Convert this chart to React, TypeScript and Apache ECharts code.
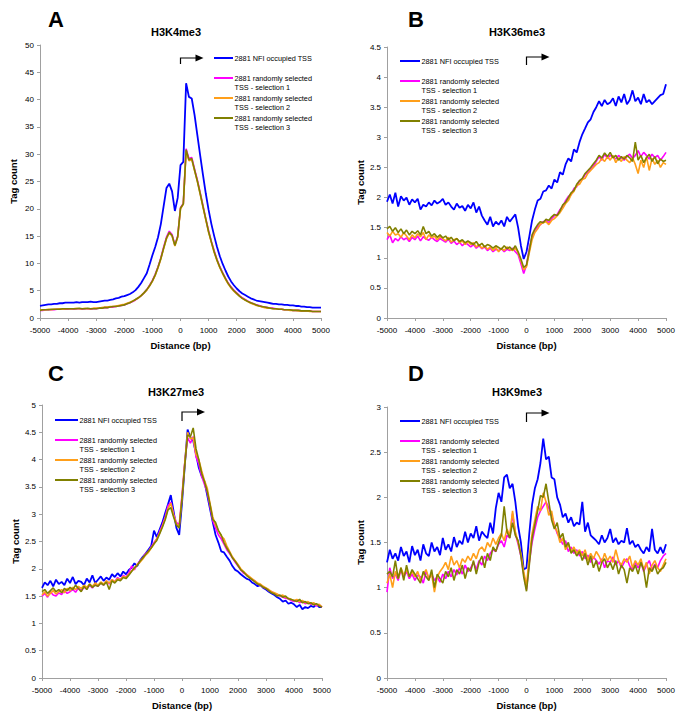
import React, { useEffect, useRef } from "react";
import * as echarts from "echarts";

// ---------- DATA ----------
const distance = [
  -5000, -4900, -4800, -4700, -4600, -4500, -4400, -4300, -4200, -4100,
  -4000, -3900, -3800, -3700, -3600, -3500, -3400, -3300, -3200, -3100,
  -3000, -2900, -2800, -2700, -2600, -2500, -2400, -2300, -2200, -2100,
  -2000, -1900, -1800, -1700, -1600, -1500, -1400, -1300, -1200, -1100,
  -1000, -900, -800, -700, -600, -500, -400, -300, -200, -100,
  0, 100, 200, 300, 400, 500, 600, 700, 800, 900,
  1000, 1100, 1200, 1300, 1400, 1500, 1600, 1700, 1800, 1900,
  2000, 2100, 2200, 2300, 2400, 2500, 2600, 2700, 2800, 2900,
  3000, 3100, 3200, 3300, 3400, 3500, 3600, 3700, 3800, 3900,
  4000, 4100, 4200, 4300, 4400, 4500, 4600, 4700, 4800, 4900, 5000,
];

const seriesNames = [
  "2881 NFI occupied TSS",
  "2881 randomly selected TSS - selection 1",
  "2881 randomly selected TSS - selection 2",
  "2881 randomly selected TSS - selection 3",
];
const legendLines = [
  ["2881 NFI occupied TSS"],
  ["2881 randomly selected", "TSS - selection 1"],
  ["2881 randomly selected", "TSS - selection 2"],
  ["2881 randomly selected", "TSS - selection 3"],
];
const panelLetters = ["A", "B", "C", "D"];
const panelTitles = ["H3K4me3", "H3K36me3", "H3K27me3", "H3K9me3"];
const yMax = [50, 4.5, 5, 3];
const yStep = [5, 0.5, 0.5, 0.5];

// Panel A: H3K4me3
const aNfi = [
  2.2, 2.3, 2.4, 2.5, 2.5, 2.6, 2.6, 2.7, 2.7, 2.8,
  2.8, 2.8, 2.8, 2.9, 2.8, 2.9, 2.9, 2.9, 3.0, 2.9,
  2.9, 3.0, 3.1, 3.2, 3.2, 3.3, 3.4, 3.6, 3.7, 3.9,
  4.0, 4.2, 4.4, 4.7, 5.1, 5.7, 6.4, 7.3, 8.2, 9.8,
  11.5, 13.0, 14.8, 17.2, 20.5, 23.8, 24.6, 23.2, 19.6, 22.0,
  28.0, 28.6, 43.0, 40.5, 40.2, 37.2, 33.5, 29.8, 26.2, 22.8,
  19.8, 17.2, 15.0, 13.0, 11.3, 9.9, 8.7, 7.6, 6.7, 6.0,
  5.4, 4.9, 4.5, 4.2, 3.9, 3.6, 3.4, 3.2, 3.1, 3.0,
  2.9, 2.8, 2.7, 2.6, 2.6, 2.5, 2.5, 2.4, 2.4, 2.3,
  2.3, 2.2, 2.2, 2.1, 2.1, 2.0, 2.0, 1.9, 1.9, 1.9, 1.9,
];
const aSel1 = [
  1.4, 1.4, 1.5, 1.5, 1.5, 1.5, 1.6, 1.6, 1.6, 1.6,
  1.6, 1.7, 1.6, 1.7, 1.7, 1.6, 1.7, 1.7, 1.6, 1.7,
  1.7, 1.8, 1.8, 1.9, 1.9, 2.0, 2.0, 2.1, 2.2, 2.3,
  2.4, 2.6, 2.8, 3.0, 3.3, 3.7, 4.1, 4.6, 5.2, 6.0,
  6.9, 8.0, 9.4, 11.0, 13.0, 14.8, 15.9, 15.3, 13.4, 15.0,
  20.2, 21.0, 31.0, 29.2, 29.4, 27.3, 25.3, 23.0, 20.6, 18.2,
  16.0, 14.0, 12.3, 10.7, 9.4, 8.3, 7.3, 6.4, 5.7, 5.1,
  4.6, 4.1, 3.7, 3.4, 3.1, 2.8, 2.6, 2.4, 2.3, 2.1,
  2.0, 1.9, 1.8, 1.8, 1.7, 1.6, 1.6, 1.5, 1.5, 1.5,
  1.4, 1.4, 1.4, 1.3, 1.3, 1.3, 1.3, 1.2, 1.2, 1.2, 1.2,
];
const aSel2 = [
  1.5, 1.5, 1.5, 1.6, 1.5, 1.6, 1.6, 1.7, 1.6, 1.7,
  1.7, 1.7, 1.7, 1.8, 1.7, 1.7, 1.8, 1.7, 1.7, 1.8,
  1.8, 1.8, 1.9, 2.0, 2.0, 2.1, 2.1, 2.2, 2.3, 2.4,
  2.5, 2.7, 2.9, 3.1, 3.4, 3.7, 4.1, 4.6, 5.1, 5.9,
  6.7, 7.8, 9.2, 10.8, 12.7, 14.5, 15.6, 15.0, 13.2, 14.8,
  20.0, 20.8, 30.6, 28.8, 29.0, 27.0, 25.0, 22.7, 20.3, 18.0,
  15.7, 13.8, 12.0, 10.5, 9.2, 8.1, 7.1, 6.2, 5.5, 4.9,
  4.4, 4.0, 3.6, 3.3, 3.0, 2.7, 2.5, 2.3, 2.2, 2.0,
  1.9, 1.8, 1.8, 1.7, 1.7, 1.6, 1.6, 1.5, 1.5, 1.4,
  1.4, 1.4, 1.3, 1.3, 1.3, 1.3, 1.2, 1.2, 1.2, 1.2, 1.2,
];
const aSel3 = [
  1.4, 1.5, 1.5, 1.5, 1.6, 1.6, 1.6, 1.6, 1.7, 1.7,
  1.7, 1.7, 1.7, 1.7, 1.8, 1.7, 1.7, 1.8, 1.7, 1.7,
  1.7, 1.8, 1.8, 1.9, 1.9, 2.0, 2.1, 2.1, 2.2, 2.3,
  2.4, 2.6, 2.8, 3.1, 3.4, 3.7, 4.1, 4.6, 5.2, 5.9,
  6.8, 7.9, 9.3, 10.9, 12.8, 14.6, 15.7, 15.1, 13.3, 14.9,
  20.1, 20.9, 30.8, 29.0, 29.2, 27.1, 25.1, 22.8, 20.4, 18.1,
  15.8, 13.9, 12.1, 10.6, 9.3, 8.2, 7.2, 6.3, 5.6, 5.0,
  4.5, 4.0, 3.6, 3.3, 3.0, 2.8, 2.6, 2.4, 2.2, 2.1,
  2.0, 1.9, 1.8, 1.7, 1.7, 1.6, 1.6, 1.5, 1.5, 1.5,
  1.4, 1.4, 1.4, 1.3, 1.3, 1.3, 1.3, 1.2, 1.2, 1.2, 1.2,
];

// Panel B: H3K36me3
const bNfi = [
  1.93, 2.05, 1.90, 2.08, 1.85, 2.02, 1.95, 2.00, 1.88, 1.97,
  1.92, 1.98, 1.80, 1.88, 1.85, 1.92, 1.87, 1.95, 1.90, 1.93,
  1.98, 1.88, 1.92, 1.85, 1.80, 1.90, 1.83, 1.86, 1.78, 1.88,
  1.82, 1.92, 1.75, 1.85, 1.70, 1.62, 1.55, 1.68, 1.52, 1.60,
  1.55, 1.62, 1.52, 1.68, 1.60, 1.66, 1.72, 1.50, 1.20, 0.98,
  1.10, 1.35, 1.62, 1.80, 1.95, 1.98, 2.10, 2.12, 2.20, 2.15,
  2.30, 2.25, 2.42, 2.38, 2.55, 2.65, 2.60, 2.80, 2.75, 2.92,
  3.05, 3.15, 3.25, 3.30, 3.42, 3.50, 3.60, 3.52, 3.62, 3.55,
  3.58, 3.65, 3.52, 3.68, 3.58, 3.72, 3.55, 3.62, 3.78, 3.60,
  3.66, 3.55, 3.72, 3.58, 3.62, 3.55, 3.60, 3.65, 3.70, 3.72, 3.88,
];
const bSel1 = [
  1.30, 1.38, 1.25, 1.32, 1.28, 1.35, 1.30, 1.33, 1.27, 1.34,
  1.30, 1.36, 1.28, 1.35, 1.31, 1.29, 1.34, 1.30, 1.27, 1.32,
  1.29, 1.26, 1.31, 1.24, 1.28, 1.22, 1.26, 1.20, 1.25, 1.22,
  1.18, 1.22, 1.16, 1.20, 1.15, 1.18, 1.12, 1.16, 1.10, 1.14,
  1.12, 1.15, 1.10, 1.14, 1.12, 1.16, 1.10, 1.05, 0.90, 0.74,
  0.88, 1.15, 1.35, 1.45, 1.52, 1.55, 1.60, 1.62, 1.58, 1.65,
  1.70, 1.72, 1.80, 1.85, 1.95, 2.02, 2.05, 2.15, 2.18, 2.28,
  2.30, 2.38, 2.42, 2.48, 2.52, 2.60, 2.68, 2.62, 2.72, 2.65,
  2.70, 2.68, 2.64, 2.70, 2.66, 2.62, 2.68, 2.72, 2.65, 2.70,
  2.78, 2.68, 2.75, 2.70, 2.64, 2.72, 2.66, 2.70, 2.62, 2.68, 2.75,
];
const bSel2 = [
  1.42, 1.36, 1.44, 1.38, 1.40, 1.34, 1.42, 1.36, 1.30, 1.38,
  1.33, 1.40, 1.35, 1.42, 1.30, 1.38, 1.33, 1.36, 1.30, 1.35,
  1.32, 1.28, 1.34, 1.26, 1.30, 1.32, 1.25, 1.28, 1.22, 1.27,
  1.22, 1.25, 1.18, 1.22, 1.16, 1.20, 1.14, 1.18, 1.12, 1.17,
  1.10, 1.16, 1.12, 1.18, 1.14, 1.12, 1.16, 1.08, 0.95, 0.80,
  0.85, 1.08, 1.30, 1.42, 1.48, 1.56, 1.58, 1.60, 1.55, 1.62,
  1.65, 1.70, 1.75, 1.82, 1.90, 1.95, 2.05, 2.10, 2.20, 2.22,
  2.30, 2.32, 2.40, 2.45, 2.50, 2.55, 2.58, 2.65, 2.60, 2.68,
  2.62, 2.70, 2.58, 2.66, 2.60, 2.68, 2.62, 2.58, 2.66, 2.55,
  2.40, 2.62, 2.50, 2.68, 2.45, 2.65, 2.55, 2.62, 2.50, 2.58, 2.55,
];
const bSel3 = [
  1.48, 1.52, 1.44, 1.50, 1.42, 1.48, 1.40, 1.46, 1.38, 1.44,
  1.40, 1.45, 1.38, 1.52, 1.40, 1.44, 1.36, 1.40, 1.34, 1.38,
  1.33, 1.36, 1.30, 1.34, 1.28, 1.32, 1.27, 1.30, 1.25, 1.28,
  1.25, 1.22, 1.27, 1.20, 1.24, 1.18, 1.22, 1.20, 1.16, 1.20,
  1.17, 1.14, 1.20, 1.15, 1.18, 1.13, 1.20, 1.10, 0.98, 0.84,
  0.88, 1.12, 1.38, 1.48, 1.55, 1.60, 1.58, 1.64, 1.62, 1.68,
  1.72, 1.70, 1.78, 1.88, 1.92, 2.00, 2.08, 2.12, 2.22, 2.28,
  2.32, 2.40, 2.45, 2.50, 2.56, 2.62, 2.70, 2.66, 2.74, 2.68,
  2.75, 2.66, 2.70, 2.62, 2.68, 2.64, 2.70, 2.66, 2.60, 2.92,
  2.62, 2.70, 2.58, 2.66, 2.72, 2.60, 2.68, 2.56, 2.64, 2.60, 2.62,
];

// Panel C: H3K27me3
const cNfi = [
  1.65, 1.75, 1.70, 1.78, 1.68, 1.80, 1.72, 1.76, 1.70, 1.82,
  1.74, 1.85, 1.72, 1.78, 1.76, 1.70, 1.82, 1.75, 1.88, 1.74,
  1.80, 1.86, 1.78, 1.84, 1.80, 1.90, 1.85, 1.92, 1.86, 1.95,
  1.90, 1.98, 2.02, 2.10, 2.05, 2.15, 2.22, 2.28, 2.35, 2.42,
  2.70, 2.58, 2.72, 2.85, 3.02, 3.18, 3.35, 3.05, 2.75, 2.62,
  3.20, 3.90, 4.55, 4.40, 4.35, 4.10, 3.85, 3.70, 3.60, 3.35,
  3.10, 2.85, 2.62, 2.48, 2.32, 2.30, 2.22, 2.15, 2.05, 1.98,
  1.95, 1.90, 1.86, 1.82, 1.80, 1.75, 1.72, 1.68, 1.70, 1.65,
  1.62, 1.58, 1.55, 1.52, 1.48, 1.45, 1.40, 1.42, 1.36, 1.38,
  1.35, 1.30, 1.34, 1.26, 1.30, 1.28, 1.32, 1.30, 1.35, 1.30, 1.30,
];
const cSel1 = [
  1.50, 1.55, 1.48, 1.58, 1.52, 1.50, 1.56, 1.53, 1.60, 1.55,
  1.58, 1.62, 1.57, 1.65, 1.60, 1.66, 1.63, 1.70, 1.65, 1.72,
  1.68, 1.75, 1.70, 1.78, 1.72, 1.80, 1.76, 1.84, 1.80, 1.88,
  1.85, 1.92, 2.05, 1.98, 2.08, 2.15, 2.20, 2.28, 2.32, 2.40,
  2.48, 2.55, 2.68, 2.80, 2.95, 3.15, 3.22, 3.00, 2.85, 2.80,
  3.35, 3.95, 4.40, 4.30, 4.42, 4.05, 3.92, 3.70, 3.55, 3.40,
  3.15, 2.88, 2.75, 2.62, 2.55, 2.45, 2.35, 2.28, 2.20, 2.12,
  2.05, 1.98, 1.92, 1.90, 1.85, 1.80, 1.78, 1.72, 1.70, 1.66,
  1.64, 1.60, 1.58, 1.55, 1.52, 1.50, 1.48, 1.46, 1.45, 1.42,
  1.40, 1.42, 1.38, 1.40, 1.36, 1.38, 1.35, 1.36, 1.32, 1.34, 1.30,
];
const cSel2 = [
  1.52, 1.58, 1.50, 1.55, 1.60, 1.54, 1.58, 1.62, 1.56, 1.64,
  1.60, 1.66, 1.62, 1.68, 1.64, 1.70, 1.66, 1.72, 1.68, 1.74,
  1.70, 1.76, 1.72, 1.78, 1.74, 1.80, 1.76, 1.82, 1.80, 1.86,
  1.84, 1.90, 1.96, 2.00, 2.08, 2.12, 2.18, 2.25, 2.30, 2.38,
  2.45, 2.55, 2.65, 2.78, 2.92, 3.10, 3.20, 2.98, 2.82, 2.78,
  3.30, 3.95, 4.50, 4.38, 4.40, 4.10, 4.00, 3.80, 3.62, 3.48,
  3.20, 2.95, 2.80, 2.70, 2.60, 2.55, 2.42, 2.32, 2.22, 2.15,
  2.08, 2.00, 1.95, 1.90, 1.86, 1.82, 1.78, 1.74, 1.72, 1.68,
  1.65, 1.62, 1.58, 1.56, 1.54, 1.50, 1.52, 1.48, 1.46, 1.44,
  1.42, 1.44, 1.40, 1.42, 1.38, 1.40, 1.36, 1.38, 1.34, 1.35, 1.30,
];
const cSel3 = [
  1.58, 1.62, 1.55, 1.60, 1.65, 1.58, 1.62, 1.56, 1.64, 1.60,
  1.66, 1.62, 1.70, 1.64, 1.58, 1.68, 1.62, 1.72, 1.66, 1.70,
  1.68, 1.74, 1.70, 1.76, 1.62, 1.78, 1.74, 1.80, 1.78, 1.84,
  1.82, 1.88, 1.95, 2.02, 2.06, 2.14, 2.20, 2.26, 2.32, 2.38,
  2.46, 2.52, 2.64, 2.76, 2.90, 3.08, 3.12, 2.95, 2.80, 2.75,
  3.28, 3.90, 4.45, 4.42, 4.58, 4.20, 4.00, 3.75, 3.60, 3.42,
  3.18, 2.90, 2.85, 2.70, 2.62, 2.48, 2.38, 2.30, 2.20, 2.14,
  2.06, 1.98, 1.94, 1.88, 1.84, 1.80, 1.76, 1.72, 1.70, 1.66,
  1.64, 1.60, 1.56, 1.54, 1.50, 1.52, 1.48, 1.50, 1.45, 1.44,
  1.42, 1.40, 1.44, 1.38, 1.40, 1.36, 1.38, 1.34, 1.36, 1.32, 1.30,
];

// Panel D: H3K9me3
const dNfi = [
  1.28, 1.42, 1.32, 1.38, 1.30, 1.45, 1.35, 1.40, 1.28, 1.46,
  1.36, 1.42, 1.30, 1.48, 1.38, 1.35, 1.50, 1.40, 1.45, 1.36,
  1.55, 1.42, 1.48, 1.40, 1.56, 1.45, 1.52, 1.48, 1.62, 1.50,
  1.60, 1.55, 1.68, 1.52, 1.62, 1.58, 1.55, 1.72, 1.60, 1.88,
  2.05, 1.95, 2.22, 2.25, 2.10, 2.15, 1.95, 1.68, 1.50, 1.20,
  1.22, 1.60, 1.92, 2.10, 2.20, 2.38, 2.65, 2.42, 2.45, 2.22,
  2.20, 2.00, 1.92, 1.78, 1.82, 1.72, 1.78, 1.68, 1.72, 1.70,
  1.95, 1.62, 1.72, 1.58, 1.55, 1.52, 1.48, 1.58, 1.50, 1.55,
  1.65, 1.50, 1.55, 1.48, 1.52, 1.50, 1.66, 1.48, 1.52, 1.45,
  1.48, 1.42, 1.38, 1.45, 1.40, 1.65, 1.42, 1.38, 1.45, 1.38, 1.48,
];
const dSel1 = [
  0.95, 1.22, 1.10, 1.15, 1.08, 1.20, 1.12, 1.18, 1.10, 1.15,
  1.08, 1.14, 1.12, 1.05, 1.18, 1.10, 1.15, 1.08, 1.12, 1.06,
  1.15, 1.10, 1.18, 1.12, 1.20, 1.14, 1.22, 1.15, 1.25, 1.18,
  1.22, 1.28, 1.20, 1.30, 1.25, 1.35, 1.30, 1.38, 1.42, 1.40,
  1.48, 1.52, 1.45, 1.58, 1.55, 1.82, 1.60, 1.48, 1.35, 1.15,
  0.98, 1.28, 1.50, 1.65, 1.78, 1.85, 1.90, 1.95, 1.88, 1.80,
  1.70, 1.60, 1.55, 1.48, 1.52, 1.40, 1.45, 1.38, 1.42, 1.35,
  1.40, 1.32, 1.36, 1.28, 1.34, 1.30, 1.26, 1.32, 1.22, 1.30,
  1.28, 1.34, 1.25, 1.30, 1.22, 1.28, 1.32, 1.24, 1.20, 1.28,
  1.22, 1.28, 1.18, 1.25, 1.30, 1.20, 1.26, 1.22, 1.30, 1.35, 1.38,
];
const dSel2 = [
  1.05, 1.15, 1.00, 1.18, 1.10, 1.22, 1.14, 1.20, 1.12, 1.18,
  1.12, 1.18, 1.08, 1.15, 1.20, 1.10, 1.15, 0.95, 1.12, 1.18,
  1.22, 1.28, 1.20, 1.35, 1.25, 1.30, 1.22, 1.32, 1.28, 1.35,
  1.30, 1.38, 1.32, 1.42, 1.45, 1.40, 1.50, 1.45, 1.55, 1.48,
  1.55, 1.60, 1.52, 1.65, 1.58, 1.85, 1.62, 1.50, 1.38, 1.18,
  1.02, 1.35, 1.60, 1.75, 1.90, 1.85, 2.05, 1.95, 1.80, 1.85,
  1.68, 1.62, 1.50, 1.55, 1.42, 1.48, 1.40, 1.45, 1.38, 1.42,
  1.35, 1.42, 1.30, 1.38, 1.32, 1.40, 1.35, 1.28, 1.38, 1.30,
  1.35, 1.28, 1.42, 1.30, 1.25, 1.32, 1.28, 1.35, 1.22, 1.30,
  1.25, 1.32, 1.20, 1.28, 1.15, 1.25, 1.30, 1.22, 1.18, 1.25, 1.32,
];
const dSel3 = [
  1.15, 1.18, 1.12, 1.30, 1.10, 1.22, 1.08, 1.25, 1.12, 1.20,
  1.15, 1.10, 1.05, 1.18, 1.12, 1.08, 1.20, 1.00, 1.15, 1.10,
  1.05, 1.18, 1.12, 1.22, 1.08, 1.20, 1.15, 1.25, 1.10, 1.22,
  1.18, 1.30, 1.15, 1.28, 1.35, 1.22, 1.38, 1.30, 1.45, 1.40,
  1.50, 1.58, 1.90, 1.62, 1.55, 1.72, 1.58, 1.52, 1.35, 1.12,
  0.96, 1.25, 1.55, 1.70, 1.85, 2.02, 2.00, 2.15, 1.95, 1.75,
  1.65, 1.72, 1.55, 1.60, 1.45, 1.50, 1.38, 1.42, 1.35, 1.40,
  1.30, 1.38, 1.25, 1.35, 1.22, 1.30, 1.18, 1.28, 1.32, 1.22,
  1.28, 1.20, 1.30, 1.15, 1.25, 1.20, 1.05, 1.22, 1.18, 1.25,
  1.15, 1.28, 1.20, 1.00, 1.22, 1.18, 1.25, 1.15, 1.20, 1.22, 1.28,
];

const panelData = [
  [aNfi, aSel1, aSel2, aSel3],
  [bNfi, bSel1, bSel2, bSel3],
  [cNfi, cSel1, cSel2, cSel3],
  [dNfi, dSel1, dSel2, dSel3],
];

// ---------- STYLE / LAYOUT ----------
const colors = ["#0000ff", "#ff00ff", "#ff9f1a", "#808000"];
const lineWidths = [1.8, 1.6, 1.6, 1.6];
const FONT = "Arial, 'Liberation Sans', Helvetica, sans-serif";

const grids = [
  { left: 40, top: 45, width: 281, height: 273 },
  { left: 387, top: 47, width: 279, height: 271 },
  { left: 42, top: 405, width: 280, height: 273 },
  { left: 387, top: 407, width: 279, height: 271 },
];
const letterPos = [
  { x: 48, y: 19 },
  { x: 408, y: 19 },
  { x: 48, y: 373 },
  { x: 408, y: 373 },
];
const titlePos = [
  { x: 176, y: 32 },
  { x: 517, y: 32 },
  { x: 176, y: 392 },
  { x: 517, y: 392 },
];
const legendPos = [
  { x: 214, y: 58, w: 19 },
  { x: 400, y: 61, w: 20 },
  { x: 55, y: 420, w: 23 },
  { x: 400, y: 421, w: 20 },
];
const legendRowOffsets = [0, 20, 40, 60];
const arrowOffsets = [
  { top: 13, bottom: 19 },
  { top: 10, bottom: 18 },
  { top: 7, bottom: 16 },
  { top: 6, bottom: 15 },
];

export default function App() {
  const ref = useRef<HTMLDivElement>(null);

  useEffect(() => {
    document.body.style.margin = "0";
    if (!ref.current) return;
    const chart = echarts.init(ref.current, undefined, { renderer: "svg" });

    const series: any[] = [];
    panelData.forEach((sets, p) => {
      sets.forEach((vals, s) => {
        series.push({
          name: seriesNames[s],
          type: "line",
          xAxisIndex: p,
          yAxisIndex: p,
          data: distance.map((x, k) => [x, vals[k]]),
          showSymbol: false,
          symbol: "none",
          smooth: false,
          lineStyle: { color: colors[s], width: lineWidths[s] },
          itemStyle: { color: colors[s] },
          z: 2 + s,
        });
      });
    });

    const axisLineStyle = { color: "#a0a0a0", width: 1 };

    chart.setOption({
      animation: false,
      backgroundColor: "#ffffff",
      grid: grids.map((g) => ({ ...g, containLabel: false, outerBoundsMode: "none" })),
      xAxis: grids.map((_, p) => ({
        type: "value",
        gridIndex: p,
        min: -5000,
        max: 5000,
        interval: 1000,
        name: "Distance (bp)",
        nameLocation: "middle",
        nameGap: 22,
        nameTextStyle: { fontFamily: FONT, fontWeight: "bold", fontSize: 9.5, color: "#000" },
        axisLine: { show: true, onZero: false, lineStyle: axisLineStyle },
        axisTick: { show: true, length: 3, lineStyle: axisLineStyle },
        axisLabel: {
          fontFamily: FONT,
          fontSize: 8,
          color: "#000",
          margin: 8,
          hideOverlap: false,
          formatter: (v: number) => String(v),
        },
        splitLine: { show: false },
      })),
      yAxis: grids.map((_, p) => ({
        type: "value",
        gridIndex: p,
        min: 0,
        max: yMax[p],
        interval: yStep[p],
        name: "Tag count",
        nameLocation: "middle",
        nameRotate: 90,
        nameGap: 22,
        nameTextStyle: { fontFamily: FONT, fontWeight: "bold", fontSize: 9.5, color: "#000" },
        axisLine: { show: true, onZero: false, lineStyle: axisLineStyle },
        axisTick: { show: true, length: 3, lineStyle: axisLineStyle },
        axisLabel: {
          fontFamily: FONT,
          fontSize: 8,
          color: "#000",
          margin: 6,
          formatter: (v: number) => String(v),
        },
        splitLine: { show: false },
      })),
      series,
    });

    const graphics: any[] = [];
    grids.forEach((g, p) => {
      graphics.push({
        type: "text",
        x: letterPos[p].x,
        y: letterPos[p].y,
        style: {
          text: panelLetters[p],
          font: `bold 22px ${FONT}`,
          fill: "#000",
          textAlign: "left",
          textVerticalAlign: "middle",
        },
      });
      graphics.push({
        type: "text",
        x: titlePos[p].x,
        y: titlePos[p].y,
        style: {
          text: panelTitles[p],
          font: `bold 11px ${FONT}`,
          fill: "#000",
          textAlign: "center",
          textVerticalAlign: "middle",
        },
      });
      const lp = legendPos[p];
      legendLines.forEach((lines, s) => {
        const yy = lp.y + legendRowOffsets[s];
        graphics.push({
          type: "line",
          shape: { x1: lp.x, y1: yy, x2: lp.x + lp.w, y2: yy },
          style: { stroke: colors[s], lineWidth: 2 },
        });
        lines.forEach((t, li) => {
          graphics.push({
            type: "text",
            x: lp.x + lp.w + 1.5,
            y: yy + li * 9.5,
            style: {
              text: t,
              font: `7.3px ${FONT}`,
              fill: "#000",
              textAlign: "left",
              textVerticalAlign: "middle",
            },
          });
        });
      });
      // TSS arrow at x = 0
      const x0 = chart.convertToPixel({ xAxisIndex: p }, 0) as number;
      const yt = g.top + arrowOffsets[p].top;
      const yb = g.top + arrowOffsets[p].bottom;
      graphics.push({
        type: "polyline",
        shape: { points: [[x0, yb], [x0, yt], [x0 + 16, yt]] },
        style: { stroke: "#000", lineWidth: 1.2, fill: "none" },
      });
      graphics.push({
        type: "polygon",
        shape: { points: [[x0 + 15, yt - 3.5], [x0 + 23, yt], [x0 + 15, yt + 3.5]] },
        style: { fill: "#000" },
      });
    });

    chart.setOption({ graphic: { elements: graphics } });

    return () => chart.dispose();
  }, []);

  return <div ref={ref} style={{ width: 685, height: 723 }} />;
}
